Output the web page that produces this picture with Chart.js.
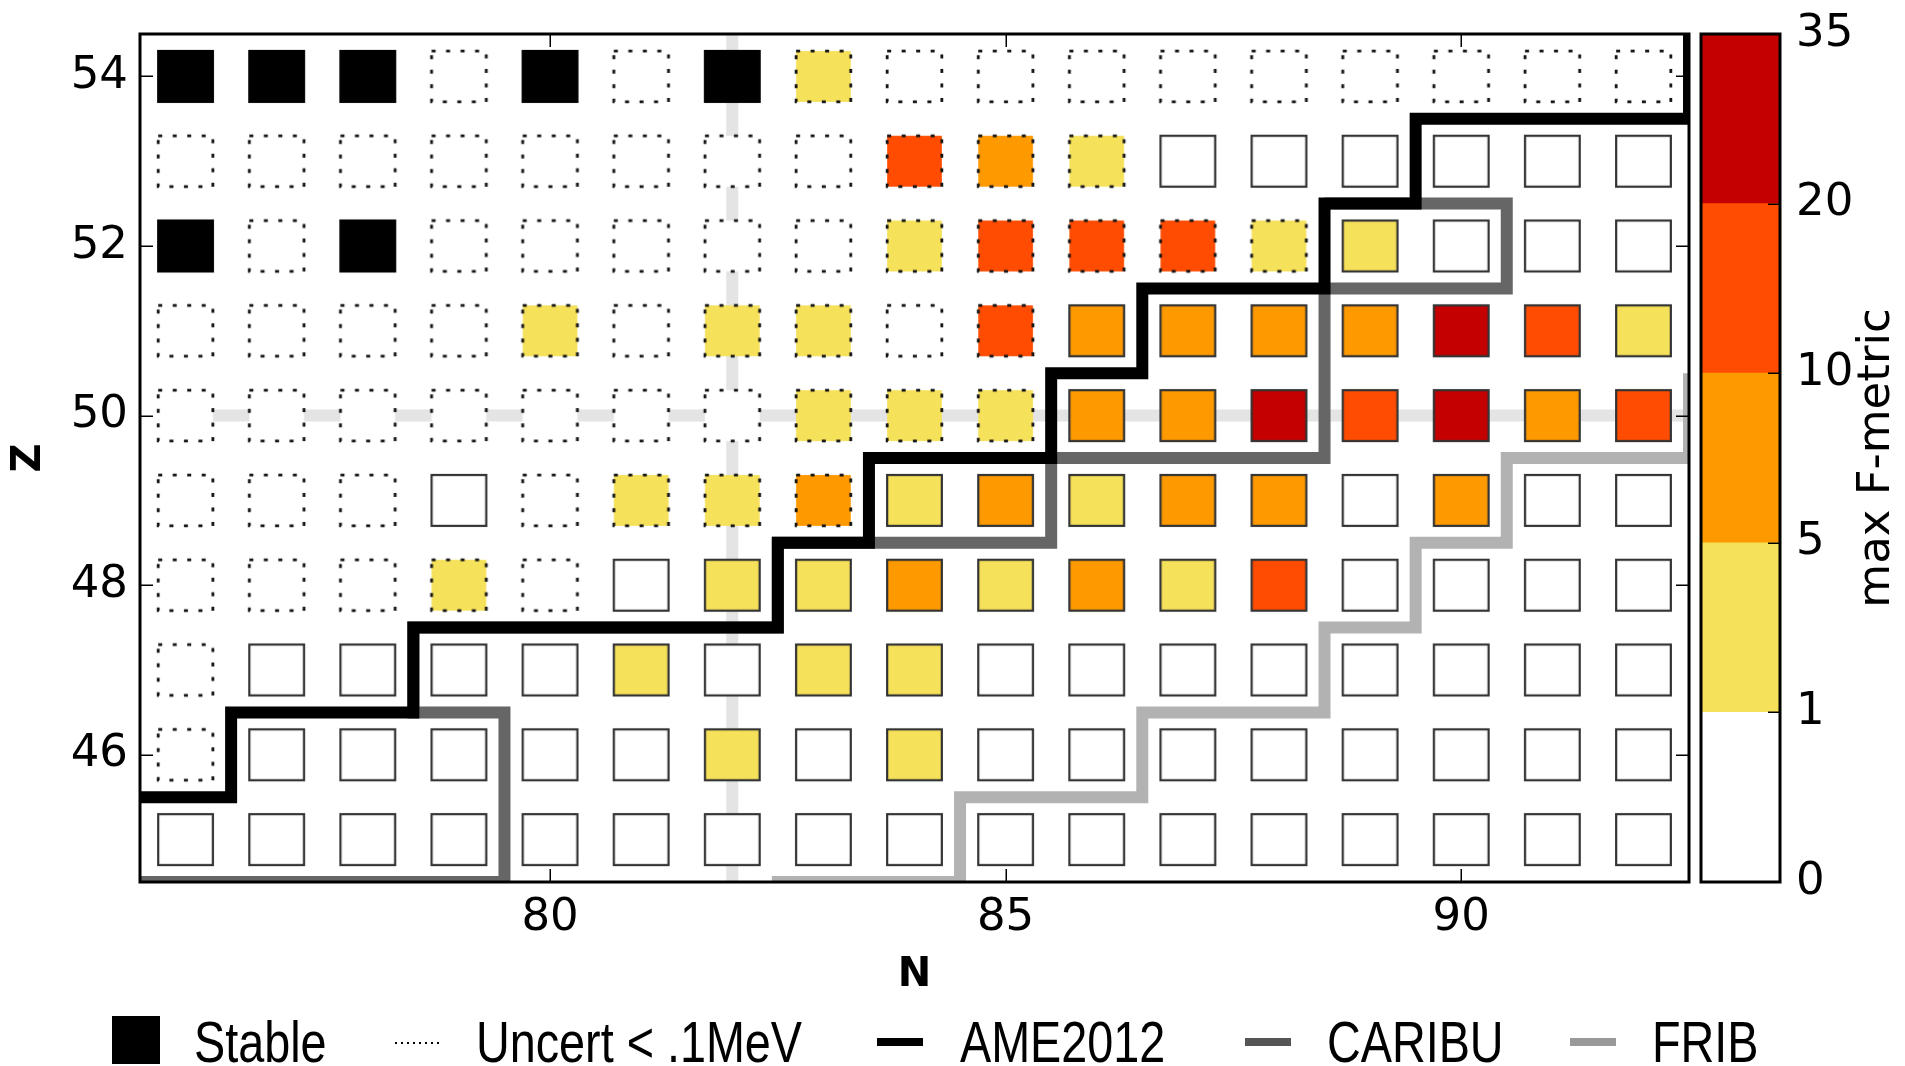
<!DOCTYPE html>
<html>
<head>
<meta charset="utf-8">
<script src="https://cdn.jsdelivr.net/npm/chart.js@4.4.1/dist/chart.umd.min.js"></script>
<style>
  html, body { margin: 0; padding: 0; background: #fff; overflow: hidden; }
  #wrap { position: relative; width: 1905px; height: 1066px; }
  #main { position: absolute; left: 0; top: 0; }
  #cbar { position: absolute; left: 1690px; top: 0; }
</style>
</head>
<body>
<div id="wrap">
  <canvas id="main" width="1905" height="1066"></canvas>
  <canvas id="cbar" width="215" height="1066"></canvas>
</div>
<script>
// ---- nuclide grid ----
const neutronNumbers = [76, 77, 78, 79, 80, 81, 82, 83, 84, 85, 86, 87, 88, 89, 90, 91, 92];
const protonNumbers = [54, 53, 52, 51, 50, 49, 48, 47, 46, 45];
const nTicks = [80, 85, 90];
const zTicks = [46, 48, 50, 52, 54];

// max F-metric, one row per Z (54 down to 45), one entry per N (76..92)
const maxFMetric = [
  [0, 0, 0, 0, 0, 0, 0, 3, 0, 0, 0, 0, 0, 0, 0, 0, 0],
  [0, 0, 0, 0, 0, 0, 0, 0, 14, 7, 3, 0, 0, 0, 0, 0, 0],
  [0, 0, 0, 0, 0, 0, 0, 0, 3, 14, 14, 14, 3, 3, 0, 0, 0],
  [0, 0, 0, 0, 3, 0, 3, 3, 0, 14, 7, 7, 7, 7, 27, 14, 3],
  [0, 0, 0, 0, 0, 0, 0, 3, 3, 3, 7, 7, 27, 14, 27, 7, 14],
  [0, 0, 0, 0, 0, 3, 3, 7, 3, 7, 3, 7, 7, 0, 7, 0, 0],
  [0, 0, 0, 3, 0, 0, 3, 3, 7, 3, 7, 3, 14, 0, 0, 0, 0],
  [0, 0, 0, 0, 0, 3, 0, 3, 3, 0, 0, 0, 0, 0, 0, 0, 0],
  [0, 0, 0, 0, 0, 0, 3, 0, 3, 0, 0, 0, 0, 0, 0, 0, 0],
  [0, 0, 0, 0, 0, 0, 0, 0, 0, 0, 0, 0, 0, 0, 0, 0, 0]
];

// S = stable, D = mass uncertainty < .1 MeV, U = less precisely known
const massStatus = [
  'SSSDSDSDDDDDDDDDD',
  'DDDDDDDDDDDUUUUUU',
  'SDSDDDDDDDDDDUUUU',
  'DDDDDDDDDDUUUUUUU',
  'DDDDDDDDDDUUUUUUU',
  'DDDUDDDDUUUUUUUUU',
  'DDDDDUUUUUUUUUUUU',
  'DUUUUUUUUUUUUUUUU',
  'DUUUUUUUUUUUUUUUU',
  'UUUUUUUUUUUUUUUUU'
];

// ---- reach boundaries (step lines) ----
const ameN = [75, 76.5, 76.5, 78.5, 78.5, 82.5, 82.5, 83.5, 83.5, 85.5, 85.5, 86.5, 86.5, 88.5, 88.5, 89.5, 89.5, 92.5, 92.5];
const ameZ = [45.5, 45.5, 46.5, 46.5, 47.5, 47.5, 48.5, 48.5, 49.5, 49.5, 50.5, 50.5, 51.5, 51.5, 52.5, 52.5, 53.5, 53.5, 55];
const caribuN = [75, 79.5, 79.5, 78.5, 78.5, 82.5, 82.5, 85.5, 85.5, 88.5, 88.5, 90.5, 90.5, 88.5];
const caribuZ = [44.5, 44.5, 46.5, 46.5, 47.5, 47.5, 48.5, 48.5, 49.5, 49.5, 51.5, 51.5, 52.5, 52.5];
const fribN = [82.5, 82.5, 84.5, 84.5, 86.5, 86.5, 88.5, 88.5, 89.5, 89.5, 90.5, 90.5, 92.5, 92.5, 94];
const fribZ = [44, 44.5, 44.5, 45.5, 45.5, 46.5, 46.5, 47.5, 47.5, 48.5, 48.5, 49.5, 49.5, 50.5, 50.5];

// magic numbers
const magicN = [82];
const magicZ = [50];

// ---- colour scale ----
const colorBounds = [0, 1, 5, 10, 20, 35];
const binColors = ['#ffffff', '#f6e15b', '#fe9900', '#ff4c00', '#c40000'];

const legendLabels = ['Stable', 'Uncert < .1MeV', 'AME2012', 'CARIBU', 'FRIB'];

Chart.defaults.font.family = "'DejaVu Sans', sans-serif";
Chart.defaults.color = '#000';

const CELL_SIZE = 0.6; // marker side, in axis units
const cellCache = {};

function binColor(f) {
  for (let i = colorBounds.length - 2; i >= 0; i--) {
    if (f >= colorBounds[i]) return binColors[i];
  }
  return binColors[0];
}

function cellImage(chart, kind, f) {
  const xs = chart.scales.x, ys = chart.scales.y;
  const w = Math.abs(xs.getPixelForValue(CELL_SIZE) - xs.getPixelForValue(0));
  const h = Math.abs(ys.getPixelForValue(CELL_SIZE) - ys.getPixelForValue(0));
  const fill = kind === 'S' ? '#000000' : binColor(f);
  const key = [kind, fill, w.toFixed(2), h.toFixed(2)].join('|');
  if (cellCache[key]) return cellCache[key];
  const pad = 3;
  const c = document.createElement('canvas');
  c.width = Math.round(w) + 2 * pad;
  c.height = Math.round(h) + 2 * pad;
  const g = c.getContext('2d');
  const x0 = (c.width - w) / 2, y0 = (c.height - h) / 2;
  g.fillStyle = fill;
  g.fillRect(x0, y0, w, h);
  if (kind === 'D') {
    g.setLineDash([4, 10.5]);
    g.lineWidth = 2.8;
    g.strokeStyle = '#141414';
  } else {
    g.lineWidth = 2.2;
    g.strokeStyle = kind === 'S' ? '#000000' : '#333333';
  }
  g.strokeRect(x0, y0, w, h);
  cellCache[key] = c;
  return c;
}

const cellPoints = [];
protonNumbers.forEach((z, r) => {
  neutronNumbers.forEach((n, c) => {
    cellPoints.push({ x: n, y: z, f: maxFMetric[r][c], s: massStatus[r][c] });
  });
});

function zip(xs, ys) { return xs.map((x, i) => ({ x: x, y: ys[i] })); }

function stepLine(label, xs, ys, color, order) {
  return {
    label: label,
    data: zip(xs, ys),
    showLine: true,
    borderColor: color,
    borderWidth: 12,
    borderJoinStyle: 'miter',
    borderCapStyle: 'butt',
    pointRadius: 0,
    fill: false,
    tension: 0,
    clip: 0,
    order: order
  };
}

const magicColor = '#e4e4e4';
const datasets = [
  stepLine('AME2012', ameN, ameZ, '#000000', 1),
  stepLine('CARIBU', caribuN, caribuZ, '#666666', 2),
  stepLine('FRIB', fribN, fribZ, '#b2b2b2', 3),
  {
    label: 'nuclides',
    data: cellPoints,
    pointRadius: 10,
    pointHoverRadius: 10,
    pointStyle: (ctx) => {
      if (!ctx.raw) return 'rect';
      return cellImage(ctx.chart, ctx.raw.s, ctx.raw.f);
    },
    order: 5
  },
  ...magicN.map(n => stepLine('N=' + n, [n, n], [44, 55], magicColor, 10)),
  ...magicZ.map(z => stepLine('Z=' + z, [76, 93], [z, z], magicColor, 10))
];

// keep the plot area exactly where the layout padding puts it
function noLabelOverhang(s) {
  s.paddingTop = 0; s.paddingBottom = 0; s.paddingLeft = 0; s.paddingRight = 0;
}

// plot frame with inward tick marks on all four sides
const framePlugin = {
  id: 'frame',
  afterDatasetsDraw(chart) {
    const { ctx, chartArea: a } = chart;
    const xs = chart.scales.x, ys = chart.scales.y;
    ctx.save();
    ctx.strokeStyle = '#000';
    ctx.lineWidth = 1.5;
    ctx.beginPath();
    nTicks.forEach(v => {
      const px = Math.round(xs.getPixelForValue(v)) + 0.25;
      ctx.moveTo(px, a.top); ctx.lineTo(px, a.top + 13);
      ctx.moveTo(px, a.bottom); ctx.lineTo(px, a.bottom - 13);
    });
    zTicks.forEach(v => {
      const py = Math.round(ys.getPixelForValue(v)) + 0.25;
      ctx.moveTo(a.left, py); ctx.lineTo(a.left + 13, py);
      ctx.moveTo(a.right, py); ctx.lineTo(a.right - 13, py);
    });
    ctx.stroke();
    ctx.lineWidth = 3;
    ctx.strokeRect(a.left, a.top, a.right - a.left, a.bottom - a.top);
    ctx.restore();
  }
};

// legend row under the axis
const legendPlugin = {
  id: 'bottomLegend',
  afterDraw(chart) {
    const ctx = chart.ctx;
    const markerX = [112, 395, 877, 1245, 1570];
    const textX = [194, 476, 960, 1327, 1652];
    const lineY = 1042;
    ctx.save();
    // Stable
    ctx.fillStyle = '#000';
    ctx.fillRect(markerX[0], 1016, 48, 48);
    // dotted
    ctx.strokeStyle = '#000';
    ctx.lineWidth = 2;
    ctx.setLineDash([2, 4]);
    ctx.beginPath();
    ctx.moveTo(markerX[1], lineY + 1); ctx.lineTo(markerX[1] + 48, lineY + 1);
    ctx.stroke();
    ctx.setLineDash([]);
    // reach lines
    const lineColors = ['#000000', '#555555', '#999999'];
    [2, 3, 4].forEach((k, j) => {
      ctx.strokeStyle = lineColors[j];
      ctx.lineWidth = 8;
      ctx.beginPath();
      ctx.moveTo(markerX[k], lineY); ctx.lineTo(markerX[k] + 46, lineY);
      ctx.stroke();
    });
    // labels
    ctx.fillStyle = '#000';
    ctx.font = '57px "Liberation Sans", Arial, sans-serif';
    ctx.textBaseline = 'alphabetic';
    ctx.textAlign = 'left';
    legendLabels.forEach((t, i) => {
      ctx.save();
      ctx.translate(textX[i], 1062);
      ctx.scale(0.82, 1);
      ctx.fillText(t, 0, 0);
      ctx.restore();
    });
    ctx.restore();
  }
};

new Chart(document.getElementById('main'), {
  type: 'scatter',
  data: { datasets: datasets },
  options: {
    responsive: false,
    animation: false,
    events: [],
    layout: { padding: { left: 0, right: 216, top: 34, bottom: 66 } },
    plugins: { legend: { display: false }, tooltip: { enabled: false } },
    scales: {
      x: {
        type: 'linear',
        min: 75.5,
        max: 92.5,
        afterBuildTicks: s => { s.ticks = nTicks.map(v => ({ value: v })); },
        afterFit: s => { s.height = 118; noLabelOverhang(s); },
        grid: { display: false, drawTicks: false },
        border: { display: false },
        ticks: { font: { size: 45 }, color: '#000', padding: 9, maxRotation: 0, autoSkip: false },
        title: { display: true, text: 'N', font: { size: 40, weight: 'bold' }, color: '#000', padding: 0 }
      },
      y: {
        type: 'linear',
        min: 44.5,
        max: 54.5,
        afterBuildTicks: s => { s.ticks = zTicks.map(v => ({ value: v })); },
        afterFit: s => { s.width = 140; noLabelOverhang(s); },
        grid: { display: false, drawTicks: false },
        border: { display: false },
        ticks: { font: { size: 45 }, color: '#000', padding: 12, autoSkip: false },
        title: { display: true, text: 'Z', font: { size: 40, weight: 'bold' }, color: '#000', padding: { top: 6, bottom: 0 } }
      }
    }
  },
  plugins: [framePlugin, legendPlugin]
});

// ---- colour bar ----
const cbarPlugin = {
  id: 'cbarFrame',
  afterDraw(chart) {
    const { ctx, chartArea: a } = chart;
    const ys = chart.scales.y;
    ctx.save();
    ctx.strokeStyle = '#000';
    ctx.lineWidth = 1.5;
    ctx.beginPath();
    for (let i = 1; i < colorBounds.length - 1; i++) {
      const py = Math.round(ys.getPixelForValue(i)) + 0.25;
      ctx.moveTo(a.right, py); ctx.lineTo(a.right - 12, py);
    }
    ctx.stroke();
    ctx.lineWidth = 3;
    ctx.strokeRect(a.left, a.top, a.right - a.left, a.bottom - a.top);
    ctx.translate(187, (a.top + a.bottom) / 2);
    ctx.rotate(-Math.PI / 2);
    ctx.fillStyle = '#000';
    ctx.font = "45px 'DejaVu Sans', sans-serif";
    ctx.textAlign = 'center';
    ctx.textBaseline = 'middle';
    ctx.fillText('max F-metric', 0, 0);
    ctx.restore();
  }
};

new Chart(document.getElementById('cbar'), {
  type: 'bar',
  data: {
    labels: [''],
    datasets: binColors.map(c => ({
      data: [1],
      backgroundColor: c,
      borderWidth: 0,
      barPercentage: 1,
      categoryPercentage: 1
    }))
  },
  options: {
    responsive: false,
    animation: false,
    events: [],
    layout: { padding: { left: 11, right: 0, top: 34, bottom: 184 } },
    plugins: { legend: { display: false }, tooltip: { enabled: false } },
    scales: {
      x: { display: false, stacked: true },
      y: {
        stacked: true,
        position: 'right',
        min: 0,
        max: colorBounds.length - 1,
        afterBuildTicks: s => { s.ticks = colorBounds.map((b, i) => ({ value: i })); },
        afterFit: s => { s.width = 125; noLabelOverhang(s); },
        grid: { display: false, drawTicks: false },
        border: { display: false },
        ticks: {
          callback: v => String(colorBounds[v]),
          padding: 16,
          font: { size: 45 },
          color: '#000',
          autoSkip: false
        }
      }
    }
  },
  plugins: [cbarPlugin]
});
</script>
</body>
</html>
